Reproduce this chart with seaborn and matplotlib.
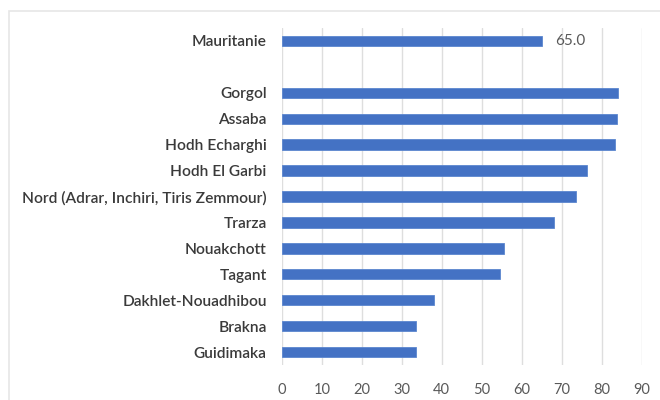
import matplotlib
matplotlib.use("Agg")
import matplotlib.pyplot as plt
import matplotlib.patches as mpatches
import seaborn as sns
import pandas as pd

# Regional values (national figure first, then regions)
national_label = "Mauritanie"
national_value = 65.0
regions = [
    "Gorgol", "Assaba", "Hodh Echarghi", "Hodh El Garbi",
    "Nord (Adrar, Inchiri, Tiris Zemmour)", "Trarza", "Nouakchott",
    "Tagant", "Dakhlet-Nouadhibou", "Brakna", "Guidimaka",
]
region_values = [84.2, 83.8, 83.4, 76.3, 73.7, 68.2, 55.6, 54.7, 38.1, 33.5, 33.5]
x_ticks = [0, 10, 20, 30, 40, 50, 60, 70, 80, 90]

spacer = " "
order = [national_label, spacer] + regions
df = pd.DataFrame({
    "zone": [national_label] + regions,
    "valeur": [national_value] + region_values,
})

sns.set_theme(style="white")
plt.rcParams["font.family"] = ["Lato", "DejaVu Sans"]

fig = plt.figure(figsize=(6.6, 4.0), dpi=100)
ax = fig.add_axes([282 / 660, 1 - 365 / 400, (641.5 - 282) / 660, (365 - 28) / 400])

bar_color = "#4472C4"
sns.barplot(data=df, x="valeur", y="zone", order=order, orient="h",
            color=bar_color, width=0.4, saturation=1, ax=ax,
            edgecolor="#5B86CF", linewidth=0.6)

ax.set_xlim(0, 90)
ax.set_ylim(len(order) - 0.5, -0.5)
ax.set_xticks(x_ticks)
ax.set_xlabel("")
ax.set_ylabel("")
ax.grid(axis="x", color="#DEDEDE", linewidth=1.0)
ax.set_axisbelow(True)
for s in ax.spines.values():
    s.set_visible(False)

ax.tick_params(axis="y", length=0, pad=11, labelsize=11.2, labelcolor="#3A3A3A")
ax.tick_params(axis="x", length=0, pad=13, labelsize=10.5, labelcolor="#595959")
for lab in ax.get_yticklabels():
    lab.set_fontweight("semibold")

# value label on the national bar
ax.text(national_value + 3.5, 0, f"{national_value:.1f}", va="center", ha="left",
        fontsize=11, color="#595959")

# light chart frame, running off the right and bottom edges
fig.patches.append(mpatches.Rectangle((9 / 660, -0.1), 1, 1.1 - 11 / 400,
                                      transform=fig.transFigure, fill=False,
                                      edgecolor="#E6E6E6", linewidth=1.2))

fig.savefig("out.png", dpi=100)
